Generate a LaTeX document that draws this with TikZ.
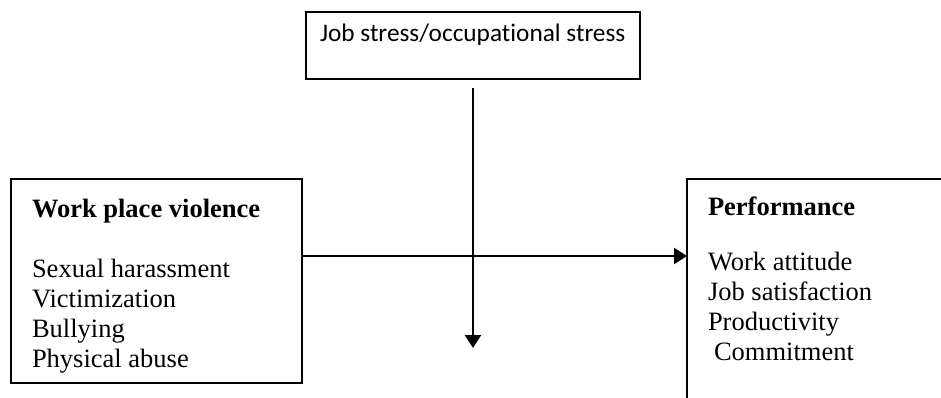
\documentclass[tikz,border=0pt]{standalone}
\usepackage{fontspec}
\setmainfont{Liberation Serif}
\newfontfamily\calibrifam[Ligatures=NoCommon]{Carlito}
\usetikzlibrary{arrows.meta}
\newcommand\tsize{\fontsize{26.5}{30}\selectfont}
\newcommand\csize{\fontsize{25.3}{29}\selectfont}
\tikzset{
  boxshape/.style={draw, line width=1.4pt, inner sep=0pt, outer sep=0pt},
  lbl/.style={anchor=base west, inner sep=0pt, outer sep=0pt, font=\tsize},
  arr/.style={line width=2.5pt, -{Triangle[width=16pt,length=13pt]}}
}
\begin{document}
\begin{tikzpicture}[x=1pt,y=-1pt]
\useasboundingbox (0,0) rectangle (941,398);
\clip (0,0) rectangle (941,398);
\fill[white] (0,0) rectangle (941,398);
% boxes
\node[boxshape, minimum width=334pt, minimum height=67pt] (top) at (473,45.5) {};
\node[boxshape, minimum width=291pt, minimum height=204pt] (left) at (156.5,281) {};
\node[boxshape, minimum width=290pt, minimum height=250pt] (right) at (832,304) {};
% texts
\node[lbl, font=\calibrifam\csize] (toptxt) at (320,42) {Job stress/occupational stress};
\node[lbl, font=\tsize\bfseries] (lhead) at (32,217) {Work place violence};
\node[lbl] (l1) at (32,277) {Sexual harassment};
\node[lbl] (l2) at (32,307) {Victimization};
\node[lbl] (l3) at (32,337) {Bullying};
\node[lbl] (l4) at (32,367) {Physical abuse};
\node[lbl, font=\tsize\bfseries] (rhead) at (708,215) {Performance};
\node[lbl] (r1) at (708,270) {Work attitude};
\node[lbl] (r2) at (708,300) {Job satisfaction};
\node[lbl] (r3) at (708,330) {Productivity};
\node[lbl] (r4) at (714,360) {Commitment};
% connectors
\coordinate (hy) at (0,256);
\coordinate (vend) at (473,348);
\draw[arr] (left.east |- hy) -- (right.west |- hy);
\draw[arr] ([yshift=-9pt]top.south) -- (vend);
\end{tikzpicture}
\end{document}
